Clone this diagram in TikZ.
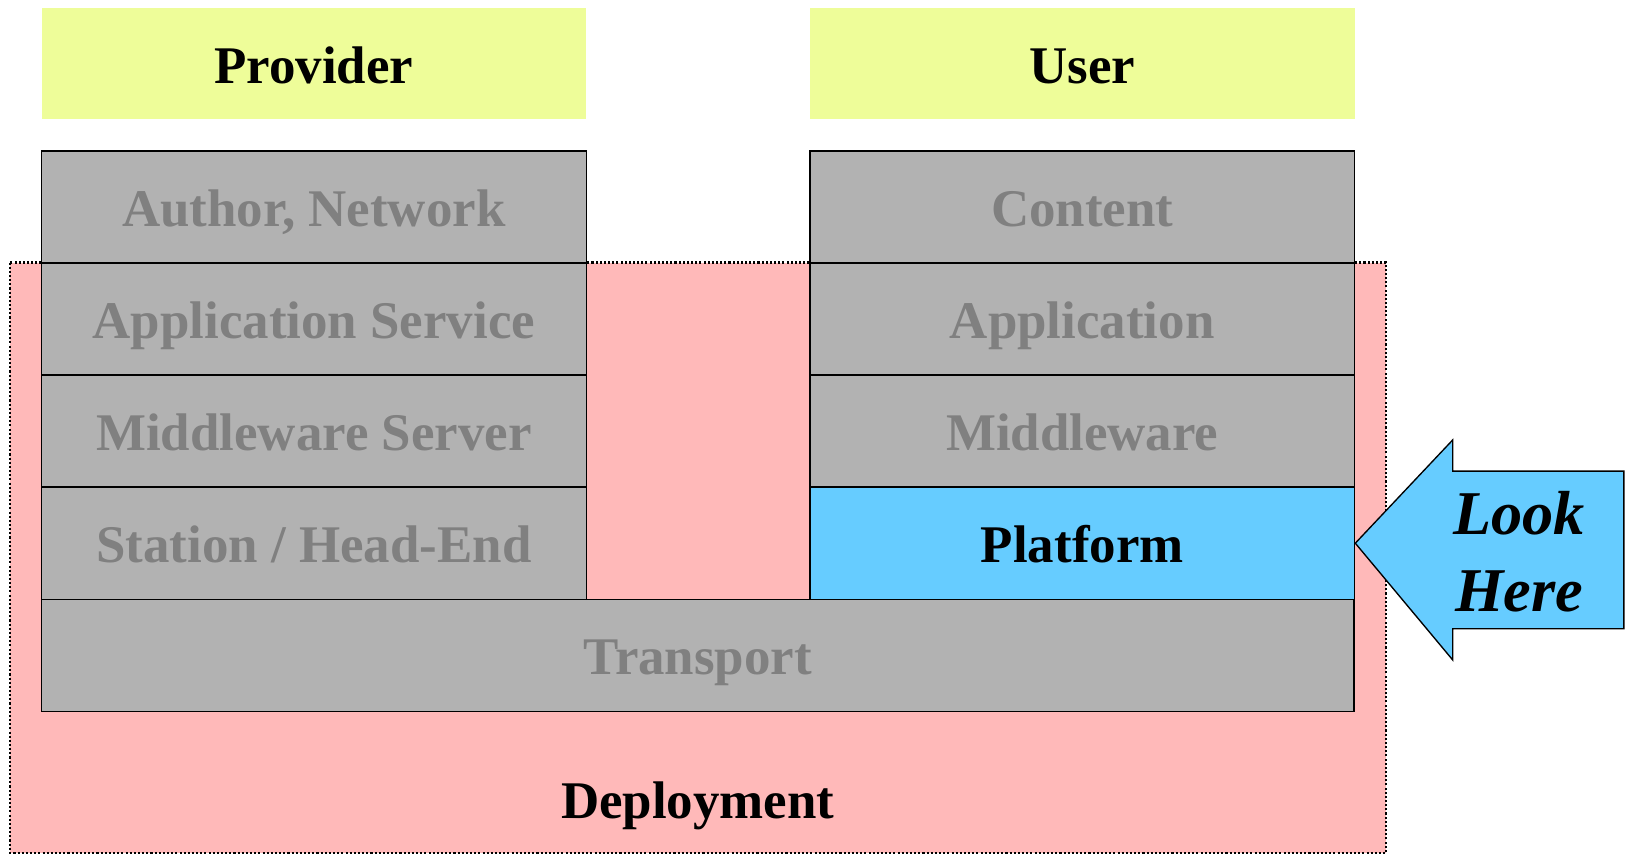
\documentclass[tikz,border=0pt]{standalone}
\usepackage{fontspec}
\setmainfont{Liberation Serif}
\definecolor{boxgray}{RGB}{178,178,178}
\definecolor{txtgray}{RGB}{128,128,128}
\definecolor{pinkbg}{RGB}{255,185,185}
\definecolor{yellowbg}{RGB}{238,253,153}
\definecolor{bluebg}{RGB}{102,204,255}
\begin{document}
\begin{tikzpicture}[x=1pt,y=-1pt,
  layer/.style={draw=black, line width=1.3pt, fill=boxgray, text=txtgray,
    minimum width=525pt, minimum height=108pt, inner sep=0pt,
    font=\fontsize{51}{60}\selectfont\bfseries, text height=38pt, text depth=0pt},
  headbox/.style={fill=yellowbg, draw=none, text=black,
    minimum width=525pt, minimum height=107pt, inner sep=0pt,
    font=\fontsize{51}{60}\selectfont\bfseries, text height=38pt, text depth=0pt},
  bigtext/.style={font=\fontsize{51}{60}\selectfont\bfseries, text=black, inner sep=0pt, text height=34pt, text depth=0pt},
  looktext/.style={font=\fontsize{60}{75}\selectfont\bfseries\itshape, text=black, inner sep=0pt, align=center}
]
\useasboundingbox (0,0) rectangle (1568,824);
\fill[white] (0,0) rectangle (1568,824);
% deployment region
\draw[fill=pinkbg, draw=black, line width=2pt, dash pattern=on 2pt off 2pt] (10,253) rectangle (1336,822);
\node[bigtext] (deploy) at (672.5,772) {Deployment};
% headers
\node[headbox] (provider) at (302.5,61.5) {Provider};
\node[headbox] (user) at (1043,61.5) {User};
% provider stack
\node[layer] (author) at (302.5,199.5) {Author, Network};
\node[layer] (appsrv) at (302.5,307.5) {Application Service};
\node[layer] (mwsrv) at (302.5,415.5) {Middleware Server};
\node[layer] (station) at (302.5,523.5) {Station / Head-End};
% user stack
\node[layer] (content) at (1043,199.5) {Content};
\node[layer] (app) at (1043,307.5) {Application};
\node[layer] (mw) at (1043,415.5) {Middleware};
\node[layer, fill=bluebg, text=black] (platform) at (1043,523.5) {Platform};
% transport
\node[layer, minimum width=1265pt] (transport) at (672.5,631.5) {Transport};
% look here arrow
\coordinate (tip) at (platform.east);
\draw[fill=bluebg, draw=black, line width=1.3pt, line join=miter]
  (tip) -- (1400,424) -- (1400,454) -- (1565,454) -- (1565,606) -- (1400,606) -- (1400,636) -- cycle;
\node[looktext] (look) at (1464,495) {Look};
\node[looktext] (here) at (1464,570) {Here};
\end{tikzpicture}
\end{document}
